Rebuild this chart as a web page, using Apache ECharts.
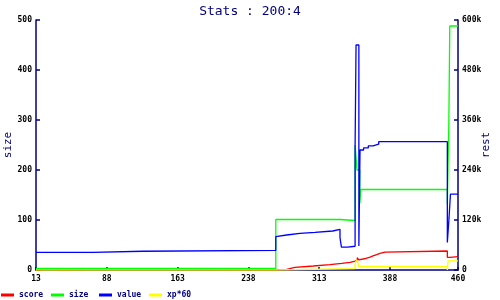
<!DOCTYPE html>
<html>
<head>
<meta charset="utf-8">
<script src="https://cdn.jsdelivr.net/npm/echarts@6/dist/echarts.min.js"></script>
<style>html,body{margin:0;padding:0;background:#fff}#c{width:500px;height:300px}</style>
</head>
<body>
<div id="c"></div>
<script>
// ---- data ----
const xTicks = [13, 88, 163, 238, 313, 388, 460];
const sizeTicks = [0, 100, 200, 300, 400, 500];
const restTicks = [0, 120000, 240000, 360000, 480000, 600000];

const sizeX  = [13, 267, 335, 351, 353, 356, 357, 448.7, 450.3, 451.3, 460];
const sizeY  = [3, 101, 99, 250, 200, 133, 161, 132, 293, 488, 488];

const valueX = [13, 73, 126, 267, 268.3, 278.5, 292.6, 308.5, 327.3, 335, 336.5, 343, 351, 352, 355, 356.2, 360, 365, 370, 376, 448.7, 450.5, 452, 460];
const valueY = [42500, 45000, 47000, 80000, 84000, 88000, 90400, 93600, 97600, 78000, 55000, 57000, 296000, 540000, 57600, 288000, 293000, 298000, 302000, 308000, 66000, 125000, 182000, 182000];

const scoreX = [13, 21, 25, 40, 92, 267, 278.5, 287.3, 306.7, 324.4, 336.8, 345.6, 353.3, 354.8, 356.2, 359.4, 362.5, 366.8, 370, 373.9, 377.4, 382.7, 448.7, 451.5, 460];
const scoreY = [0, 1700, 0, 1700, 0, 1700, 6500, 9600, 12700, 16000, 18500, 22300, 29500, 24500, 26400, 28000, 31000, 34000, 37000, 40000, 43000, 45600, 30500, 32000, 32000];

const xpX = [13, 268, 351, 353, 355, 448.7, 449.5, 460];
const xpY = [0, 3500, 16000, 24000, 8000, 0, 22000, 22000];

const names = ['score', 'size', 'value', 'xp*60'];
const colors = ['#ff0000', '#00ff00', '#0000ff', '#ffff00'];

// ---- chart ----
const pair = (xs, ys) => xs.map((x, i) => [x, ys[i]]);
const navy = '#000080';
const labelFont = {color: '#000', fontFamily: 'DejaVu Sans Mono', fontSize: 8, fontWeight: 'bold'};
const chart = echarts.init(document.getElementById('c'), null, {renderer: 'canvas'});

const legendLeft = [1, 51, 99, 149];
const option = {
  animation: false,
  backgroundColor: '#fff',
  title: {
    text: 'Stats : 200:4', left: 'center', top: 0,
    textStyle: {color: navy, fontFamily: 'DejaVu Sans Mono', fontSize: 13, fontWeight: 'normal'}
  },
  legend: names.map((n, i) => ({
    data: [n], left: legendLeft[i], top: 291, icon: 'rect', itemWidth: 13, itemHeight: 3,
    padding: 0,
    textStyle: {color: navy, fontFamily: 'DejaVu Sans Mono', fontSize: 8, fontWeight: 'bold'}
  })),
  grid: {left: 36, right: 42, top: 20, bottom: 30, containLabel: false, outerBoundsMode: 'none'},
  xAxis: {
    type: 'value', min: xTicks[0], max: xTicks[xTicks.length - 1], interval: 75,
    axisLine: {lineStyle: {color: navy, width: 1.5}},
    axisTick: {inside: true, length: 3, lineStyle: {color: navy, width: 1.5}},
    axisLabel: Object.assign({margin: 5, showMaxLabel: true, showMinLabel: true}, labelFont),
    splitLine: {show: false}
  },
  yAxis: [{
    type: 'value', min: sizeTicks[0], max: sizeTicks[sizeTicks.length - 1], interval: 100,
    name: 'size', nameLocation: 'middle', nameGap: 22, nameRotate: 90, nameMoveOverlap: false,
    nameTextStyle: {color: navy, fontFamily: 'DejaVu Sans Mono', fontSize: 11},
    axisLine: {show: true, lineStyle: {color: navy, width: 1.5}},
    axisTick: {show: true, inside: true, length: 4, lineStyle: {color: navy, width: 1.5}},
    axisLabel: Object.assign({margin: 4}, labelFont),
    splitLine: {show: false}
  }, {
    type: 'value', position: 'right', min: restTicks[0], max: restTicks[restTicks.length - 1], interval: 120000,
    name: 'rest', nameLocation: 'middle', nameGap: 23, nameRotate: 90, nameMoveOverlap: false,
    nameTextStyle: {color: navy, fontFamily: 'DejaVu Sans Mono', fontSize: 11},
    axisLine: {show: true, lineStyle: {color: navy, width: 1.5}},
    axisTick: {show: true, inside: true, length: 4, lineStyle: {color: navy, width: 1.5}},
    axisLabel: Object.assign({margin: 4, formatter: v => v === 0 ? '0' : (v / 1000) + 'k'}, labelFont),
    splitLine: {show: false}
  }],
  series: [
    {name: 'score', type: 'line', yAxisIndex: 1, step: 'end', data: pair(scoreX, scoreY)},
    {name: 'size', type: 'line', yAxisIndex: 0, step: 'end', data: pair(sizeX, sizeY)},
    {name: 'value', type: 'line', yAxisIndex: 1, step: 'end', data: pair(valueX, valueY)},
    {name: 'xp*60', type: 'line', yAxisIndex: 1, step: 'end', data: pair(xpX, xpY)}
  ].map((s, i) => Object.assign(s, {
    symbol: 'none', color: colors[i], lineStyle: {width: 1.3, color: colors[i]}
  }))
};
chart.setOption(option);
</script>
</body>
</html>
